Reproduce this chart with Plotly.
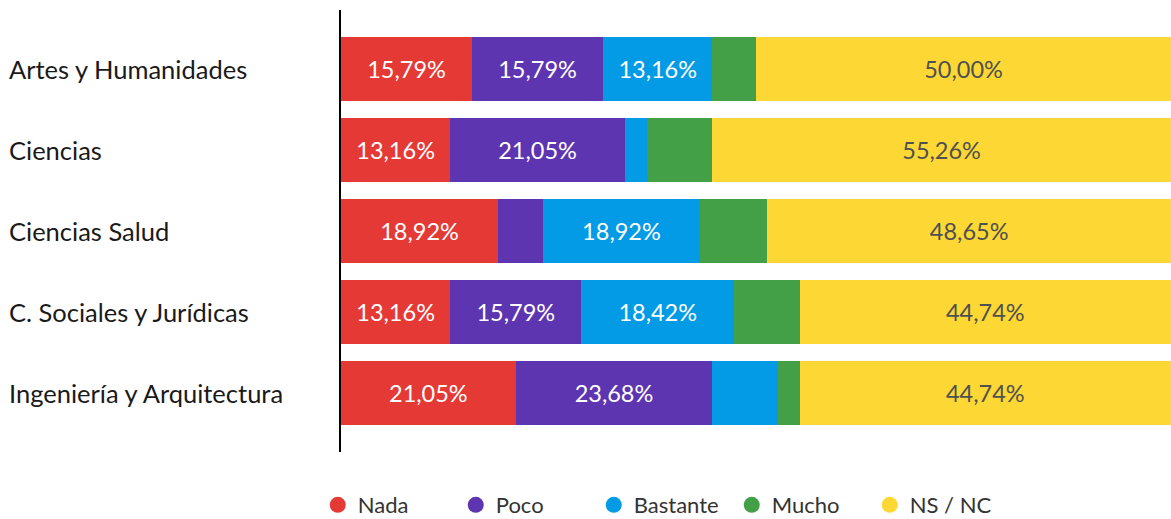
import plotly.graph_objects as go

categories = ["Artes y Humanidades", "Ciencias", "Ciencias Salud",
              "C. Sociales y Jurídicas", "Ingeniería y Arquitectura"]
series_names = ["Nada", "Poco", "Bastante", "Mucho", "NS / NC"]
nada = [15.79, 13.16, 18.92, 13.16, 21.05]
poco = [15.79, 21.05, 5.41, 15.79, 23.68]
bastante = [13.16, 2.63, 18.92, 18.42, 7.89]
mucho = [5.26, 7.89, 8.11, 7.89, 2.63]
nsnc = [50.00, 55.26, 48.65, 44.74, 44.74]
colors = ["#E53935", "#5E35B1", "#039BE5", "#43A047", "#FDD835"]
text_colors = ["white", "white", "white", "white", "#505050"]
label_min = 10.0

FONT = "Lato"

def fmt(v):
    return (f"{v:.2f}".replace(".", ",") + "%") if v >= label_min else ""

fig = go.Figure()
for name, vals, col, tcol in zip(series_names, [nada, poco, bastante, mucho, nsnc], colors, text_colors):
    fig.add_trace(go.Bar(
        y=categories, x=vals, orientation="h", name=name,
        marker=dict(color=col, line=dict(width=0)),
        text=[fmt(v) for v in vals], textposition="inside",
        insidetextanchor="middle", textangle=0,
        textfont=dict(family=FONT, size=23.5, color=tcol),
        width=0.8, showlegend=False, hoverinfo="skip",
    ))
    fig.add_trace(go.Scatter(
        x=[None], y=[None], mode="markers", name=name,
        marker=dict(symbol="circle", size=19, color=col),
        showlegend=True,
    ))

for c in categories:
    fig.add_annotation(x=-0.4025, xref="paper", y=c, yref="y", text=c,
                       showarrow=False, xanchor="left", yanchor="middle",
                       font=dict(family=FONT, size=25.5, color="#1a1a1a"))

fig.update_layout(
    width=1171, height=519,
    barmode="stack", bargap=0.2,
    plot_bgcolor="white", paper_bgcolor="white",
    margin=dict(l=341, r=0, t=10, b=67, autoexpand=False),
    uniformtext=dict(mode="show", minsize=10),
    xaxis=dict(range=[0, 100], showgrid=False, showticklabels=False,
               zeroline=False, showline=False),
    yaxis=dict(categoryorder="array", categoryarray=categories,
               range=[4.73, -0.73], showticklabels=False, showgrid=False,
               showline=True, linecolor="black", linewidth=2, zeroline=False),
    legend=dict(orientation="h", x=-0.028, xanchor="left", y=-0.1674,
                yanchor="bottom", traceorder="normal",
                entrywidth=93, entrywidthmode="pixels",
                font=dict(family=FONT, size=22, color="#333"),
                itemsizing="trace"),
    font=dict(family=FONT),
)

fig.write_html("out.html", post_script="document.body.style.margin='0';",
               config={"displayModeBar": False})
